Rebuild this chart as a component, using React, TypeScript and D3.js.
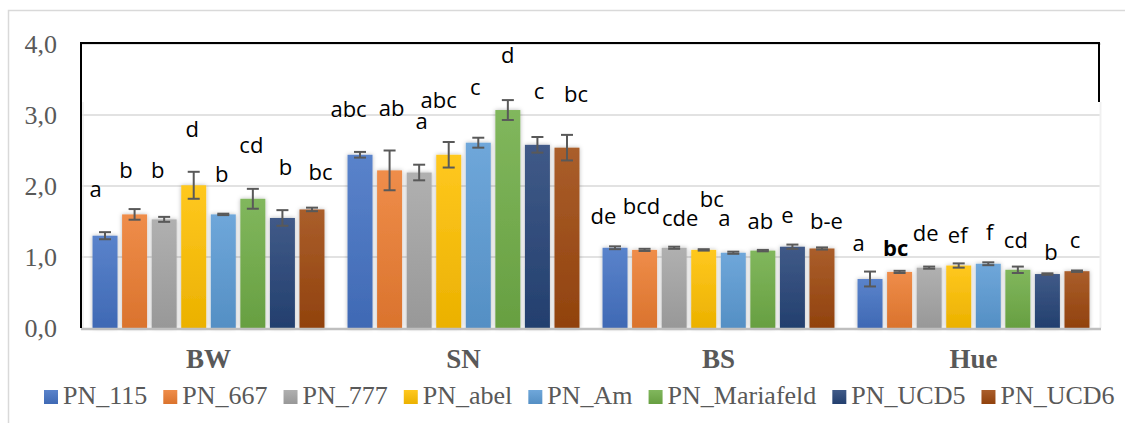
import React, { useRef, useEffect } from 'react';
import * as d3 from 'd3';

const categories = ['BW', 'SN', 'BS', 'Hue'];
const series = ['PN_115', 'PN_667', 'PN_777', 'PN_abel', 'PN_Am', 'PN_Mariafeld', 'PN_UCD5', 'PN_UCD6'];
const yTicks = [0, 1, 2, 3, 4];

// means per category, one value per series
const meanBW = [1.30, 1.60, 1.53, 2.01, 1.60, 1.82, 1.55, 1.67];
const meanSN = [2.44, 2.22, 2.19, 2.44, 2.61, 3.07, 2.58, 2.54];
const meanBS = [1.13, 1.10, 1.13, 1.10, 1.06, 1.09, 1.145, 1.12];
const meanHue = [0.69, 0.79, 0.85, 0.88, 0.905, 0.82, 0.76, 0.80];

// error bar half widths
const errBW = [0.05, 0.075, 0.035, 0.19, 0.01, 0.14, 0.11, 0.025];
const errSN = [0.04, 0.28, 0.11, 0.18, 0.07, 0.14, 0.11, 0.18];
const errBS = [0.02, 0.015, 0.015, 0.01, 0.015, 0.01, 0.03, 0.015];
const errHue = [0.105, 0.015, 0.015, 0.03, 0.02, 0.045, 0.01, 0.01];

// significance letters
const lettersBW = ['a', 'b', 'b', 'd', 'b', 'cd', 'b', 'bc'];
const lettersSN = ['abc', 'ab', 'a', 'abc', 'c', 'd', 'c', 'bc'];
const lettersBS = ['de', 'bcd', 'cde', 'bc', 'a', 'ab', 'e', 'b-e'];
const lettersHue = ['a', 'bc', 'de', 'ef', 'f', 'cd', 'b', 'c'];

// where each letter sits (axis units) and its nudge from the bar centre
const letterAtBW = [1.85, 2.11, 2.11, 2.69, 2.06, 2.47, 2.15, 2.09];
const letterAtSN = [2.97, 2.98, 2.80, 3.10, 3.28, 3.73, 3.22, 3.18];
const letterAtBS = [1.46, 1.60, 1.43, 1.71, 1.43, 1.39, 1.48, 1.39];
const letterAtHue = [1.08, 1.01, 1.23, 1.20, 1.24, 1.13, 0.96, 1.13];
const letterDxBW = [-9.5, -8.5, -6.5, -1.5, -1.5, -1.5, 3, 8.5];
const letterDxSN = [-11.5, 2, 2.5, -10, -3, 0, 1.5, 9];
const letterDxBS = [-11.5, -3, 6, 8, -9, -2.5, -5, 4.5];
const letterDxHue = [-11.5, -4, -3.5, -1, 1.5, -2, 3.5, -2];

const means = [meanBW, meanSN, meanBS, meanHue];
const errs = [errBW, errSN, errBS, errHue];
const letters = [lettersBW, lettersSN, lettersBS, lettersHue];
const letterAt = [letterAtBW, letterAtSN, letterAtBS, letterAtHue];
const letterDx = [letterDxBW, letterDxSN, letterDxBS, letterDxHue];

const COLORS = ['#4472C4', '#ED7D31', '#A5A5A5', '#FFC000', '#5B9BD5', '#70AD47', '#264478', '#9E480E'];

const W = 1125;
const H = 423;
const SERIF = '"Liberation Serif", "Times New Roman", serif';
const SANS = '"Open Sans", "Liberation Sans", sans-serif';
const GREY_TEXT = '#595959';

export default function App() {
  const svgRef = useRef<SVGSVGElement>(null);

  useEffect(() => {
    if (!svgRef.current) return;
    const svg = d3.select(svgRef.current);
    svg.selectAll('*').remove();

    const left = 81;
    const right = 1101;
    const y = d3.scaleLinear().domain([0, 4]).range([328, 44]);
    const x0 = d3.scaleBand<string>().domain(categories).range([left, right]);
    const x1 = d3.scaleBand<string>().domain(series).range([0, x0.bandwidth()])
      .paddingInner(0.155).paddingOuter(0.39);

    const defs = svg.append('defs');
    COLORS.forEach((c, i) => {
      const g = defs.append('linearGradient').attr('id', `grad${i}`)
        .attr('x1', 0).attr('y1', 0).attr('x2', 0).attr('y2', 1);
      g.append('stop').attr('offset', '0%').attr('stop-color', d3.interpolateRgb(c, '#ffffff')(0.12));
      g.append('stop').attr('offset', '100%').attr('stop-color', d3.interpolateRgb(c, '#000000')(0.08));
    });
    const sh = defs.append('filter').attr('id', 'shadow')
      .attr('x', '-30%').attr('y', '-10%').attr('width', '160%').attr('height', '120%');
    sh.append('feDropShadow').attr('dx', 0).attr('dy', 0).attr('stdDeviation', 2)
      .attr('flood-color', '#000').attr('flood-opacity', 0.28);

    // background + outer frame
    svg.append('rect').attr('width', W).attr('height', H).attr('fill', '#fff');
    svg.append('rect').attr('x', 8.5).attr('y', 10.5).attr('width', W + 10).attr('height', H + 10)
      .attr('fill', 'none').attr('stroke', '#d9d9d9').attr('stroke-width', 1.5);

    // gridlines
    svg.append('g').selectAll('line').data(yTicks.filter((t) => t > 0)).join('line')
      .attr('x1', left).attr('x2', right)
      .attr('y1', (d) => y(d)).attr('y2', (d) => y(d))
      .attr('stroke', '#d9d9d9').attr('stroke-width', 1.5);

    // y tick labels
    svg.append('g').selectAll('text').data(yTicks).join('text')
      .attr('x', 57).attr('y', (d) => y(d)).attr('dy', '0.33em')
      .attr('text-anchor', 'end')
      .attr('font-family', SERIF).attr('font-size', 26).attr('fill', GREY_TEXT)
      .text((d) => d3.format('.1f')(d).replace('.', ','));

    // faint inner edges
    svg.append('line').attr('x1', 83).attr('x2', 83).attr('y1', 102).attr('y2', 328)
      .attr('stroke', '#e6e6e6').attr('stroke-width', 1);
    svg.append('line').attr('x1', 1100.5).attr('x2', 1100.5).attr('y1', 102).attr('y2', 328)
      .attr('stroke', '#f0f0f0').attr('stroke-width', 2);

    // bars
    const groups = svg.append('g').selectAll('g').data(categories).join('g')
      .attr('transform', (d) => `translate(${x0(d)},0)`);

    groups.each(function (cat, ci) {
      const g = d3.select(this);
      const bw = x1.bandwidth();
      series.forEach((s, si) => {
        const v = means[ci][si];
        const e = errs[ci][si];
        const bx = x1(s)!;
        const cx = bx + bw / 2;
        g.append('rect')
          .attr('x', bx).attr('y', y(v))
          .attr('width', bw).attr('height', y(0) - y(v))
          .attr('fill', `url(#grad${si})`)
          .attr('filter', 'url(#shadow)');
        // error bar
        const eb = g.append('g').attr('stroke', GREY_TEXT).attr('stroke-width', 2);
        eb.append('line').attr('x1', cx).attr('x2', cx).attr('y1', y(v + e)).attr('y2', y(v - e));
        eb.append('line').attr('x1', cx - 6).attr('x2', cx + 6).attr('y1', y(v + e)).attr('y2', y(v + e));
        eb.append('line').attr('x1', cx - 6).attr('x2', cx + 6).attr('y1', y(v - e)).attr('y2', y(v - e));
        // letter
        g.append('text')
          .attr('x', cx + letterDx[ci][si]).attr('y', y(letterAt[ci][si]))
          .attr('text-anchor', 'middle')
          .attr('font-family', SANS).attr('font-size', 22).attr('fill', '#000')
          .attr('font-weight', cat === 'Hue' && letters[ci][si] === 'bc' ? 700 : 400)
          .text(letters[ci][si]);
      });
    });

    // x axis line
    svg.append('line').attr('x1', left).attr('x2', right).attr('y1', 329).attr('y2', 329)
      .attr('stroke', '#bfbfbf').attr('stroke-width', 2.5);

    // black frame (top, left, partial right)
    svg.append('path')
      .attr('d', `M${left},${328} V${43} H${1099} V${102}`)
      .attr('fill', 'none').attr('stroke', '#000').attr('stroke-width', 2);

    // category labels
    svg.append('g').selectAll('text').data(categories).join('text')
      .attr('x', (d) => x0(d)! + x0.bandwidth() / 2).attr('y', 368)
      .attr('text-anchor', 'middle')
      .attr('font-family', SERIF).attr('font-size', 27).attr('font-weight', 700)
      .attr('fill', GREY_TEXT)
      .text((d) => d);

    // legend
    const legend = svg.append('g');
    let lx = 44;
    series.forEach((s, i) => {
      legend.append('rect').attr('x', lx).attr('y', 390).attr('width', 14).attr('height', 14)
        .attr('fill', `url(#grad${i})`);
      const t = legend.append('text').attr('x', lx + 19).attr('y', 404)
        .attr('font-family', SERIF).attr('font-size', 26).attr('fill', GREY_TEXT)
        .text(s);
      const tw = (t.node() as SVGTextElement).getComputedTextLength();
      lx += 19 + tw + 16;
    });
  }, []);

  return (
    <svg
      ref={svgRef}
      width={W}
      height={H}
      style={{ position: 'absolute', left: 0, top: 0, display: 'block' }}
    />
  );
}
